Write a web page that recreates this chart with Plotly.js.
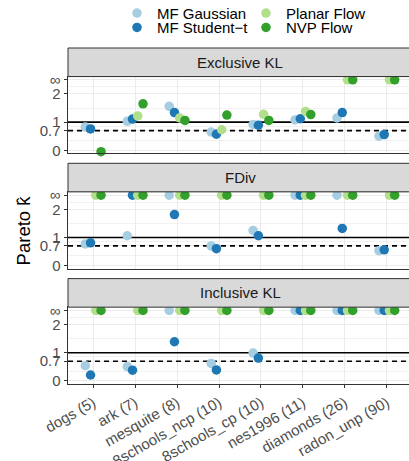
<!DOCTYPE html>
<html><head><meta charset="utf-8">
<script src="https://cdn.plot.ly/plotly-3.0.1.min.js"></script>
<style>html,body{margin:0;padding:0;overflow:hidden;background:#fff;} #chart{width:420px;height:461px;}</style>
</head><body><div id="chart"></div>
<script>
const INF = Infinity;
const categories = ['dogs (5)', 'ark (7)', 'mesquite (8)', '8schools_ncp (10)', '8schools_cp (10)', 'nes1996 (11)', 'diamonds (26)', 'radon_unp (90)'];
const seriesNames = ['MF Gaussian', 'MF Student\u2212t', 'Planar Flow', 'NVP Flow'];
const panelNames = ['Exclusive KL', 'FDiv', 'Inclusive KL'];
const yTickVals = [0, 0.7, 1, 2, 2.5];
const yTickText = ['0', '0.7', '1', '2', '\u221e'];
const INF_POS = 2.5;
const thresholdGood = 0.7;   // dashed
const thresholdBad = 1;      // solid

// Exclusive KL
const exclGauss   = [0.83, 1.03, 1.56, 0.65, 0.92, 1.08, 1.15, 0.50];
const exclStudent = [0.76, 1.11, 1.34, 0.57, 0.89, 1.12, 1.34, 0.56];
const exclPlanar  = [null, 1.22, 1.15, 0.73, 1.28, 1.38, INF, INF];
const exclNVP     = [-0.05, 1.65, 1.06, 1.25, 1.06, 1.27, INF, INF];
// FDiv
const fdivGauss   = [0.77, 1.06, INF, 0.70, 1.25, INF, INF, 0.53];
const fdivStudent = [0.81, INF, 1.81, 0.60, 1.06, INF, 1.32, 0.56];
const fdivPlanar  = [INF, INF, INF, INF, INF, INF, INF, INF];
const fdivNVP     = [INF, INF, INF, INF, INF, INF, INF, INF];
// Inclusive KL
const inclGauss   = [0.54, 0.51, INF, 0.62, 0.99, INF, INF, INF];
const inclStudent = [0.21, 0.38, 1.39, 0.39, 0.81, INF, INF, INF];
const inclPlanar  = [INF, INF, INF, INF, INF, INF, INF, INF];
const inclNVP     = [INF, INF, INF, INF, INF, INF, INF, INF];

const data = [
  [exclGauss, exclStudent, exclPlanar, exclNVP],
  [fdivGauss, fdivStudent, fdivPlanar, fdivNVP],
  [inclGauss, inclStudent, inclPlanar, inclNVP]
];

const colors = ['#a6cee3', '#1f78b4', '#b2df8a', '#33a02c'];
const dodge = [-0.1875, -0.0625, 0.0625, 0.1875];
const legendOf = ['legend', 'legend2', 'legend', 'legend2'];

// geometry (px)
const W = 420, H = 461, ML = 67.5, MR = 8.1, MT = 47.7, MB = 77;
const PH = H - MT - MB;
const STRIP = 28.6, PANEL = 76.8, GAP = 10;
const frac = py => (H - MB - py) / PH;
const xRange = [-0.6, categories.length - 0.4];

const traces = [];
const layout = {
  width: W, height: H,
  margin: {l: ML, r: MR, t: MT, b: MB, pad: 0},
  paper_bgcolor: '#ffffff', plot_bgcolor: '#ffffff',
  font: {family: 'Liberation Sans, Arial, sans-serif', size: 15, color: '#000'},
  showlegend: true,
  shapes: [], annotations: []
};

panelNames.forEach((pname, p) => {
  const sfx = p === 0 ? '' : String(p + 1);
  const stripTop = MT + p * (STRIP + PANEL + GAP);
  const panTop = stripTop + STRIP;
  const panBot = panTop + PANEL;
  layout['xaxis' + sfx] = {
    domain: [0, 1], anchor: 'y' + sfx,
    range: xRange,
    tickvals: categories.map((c, i) => i), ticktext: categories,
    showticklabels: p === 2, ticks: p === 2 ? 'outside' : '',
    ticklen: 3.5, tickwidth: 1, tickcolor: '#333333',
    tickangle: -30, tickfont: {size: 15, color: '#4d4d4d'},
    showgrid: true, gridcolor: '#ebebeb', gridwidth: 1,
    zeroline: false, showline: true, linecolor: '#333333', linewidth: 1, mirror: true,
    fixedrange: true, automargin: false
  };
  if (p > 0) layout['xaxis' + sfx].matches = 'x';
  layout['yaxis' + sfx] = {
    domain: [frac(panBot), frac(panTop)], anchor: 'x' + sfx,
    range: [-0.106, 2.617],
    tickvals: yTickVals, ticktext: yTickText,
    ticks: 'outside', ticklen: 3.5, tickwidth: 1, tickcolor: '#333333',
    tickfont: {size: 15, color: '#4d4d4d'},
    showgrid: true, gridcolor: '#ebebeb', gridwidth: 1,
    minor: {tickvals: [0.35, 0.85, 1.5, 2.25], showgrid: true, gridcolor: '#ebebeb', gridwidth: 0.7, ticks: ''},
    zeroline: false, showline: true, linecolor: '#333333', linewidth: 1, mirror: true,
    fixedrange: true, automargin: false
  };
  // strip
  layout.shapes.push({type: 'rect', xref: 'paper', yref: 'paper', x0: 0, x1: 1,
    y0: frac(panTop), y1: frac(stripTop), fillcolor: '#d9d9d9',
    line: {color: '#333333', width: 1}, layer: 'above'});
  layout.annotations.push({xref: 'paper', yref: 'paper', x: 0.5, y: frac(stripTop + STRIP / 2),
    text: pname, showarrow: false, xanchor: 'center', yanchor: 'middle',
    font: {size: 15, color: '#1a1a1a'}});
  // reference lines (as traces so they sit above gridlines, below points)
  traces.push({type: 'scatter', mode: 'lines', xaxis: 'x' + sfx, yaxis: 'y' + sfx,
    x: xRange, y: [thresholdBad, thresholdBad], showlegend: false, hoverinfo: 'skip',
    line: {color: '#000', width: 1.6}});
  traces.push({type: 'scatter', mode: 'lines', xaxis: 'x' + sfx, yaxis: 'y' + sfx,
    x: xRange, y: [thresholdGood, thresholdGood], showlegend: false, hoverinfo: 'skip',
    line: {color: '#000', width: 1.6, dash: '5px,4px'}});

  data[p].forEach((vals, s) => {
    traces.push({
      type: 'scatter', mode: 'markers',
      name: seriesNames[s], legend: legendOf[s], showlegend: p === 0,
      xaxis: 'x' + sfx, yaxis: 'y' + sfx,
      x: categories.map((c, i) => i + dodge[s]),
      y: vals.map(v => v === INF ? INF_POS : v),
      marker: {color: colors[s], size: 9.5, line: {width: 0}},
      hoverinfo: 'skip', cliponaxis: false
    });
  });
});

// legends (two rows)
const legendCommon = {
  orientation: 'h', xref: 'container', yref: 'container',
  xanchor: 'left', yanchor: 'middle', x: 117 / W,
  entrywidth: 84, entrywidthmode: 'pixels',
  bgcolor: 'rgba(0,0,0,0)', borderwidth: 0,
  font: {size: 15, color: '#000'}, itemclick: false, itemdoubleclick: false
};
layout.legend = Object.assign({}, legendCommon, {y: 1 - 13.3 / H});
layout.legend2 = Object.assign({}, legendCommon, {y: 1 - 27.7 / H});

// y-axis title
layout.annotations.push({xref: 'paper', yref: 'paper', x: (22.7 - ML) / (W - ML - MR), y: frac(230),
  text: 'Pareto k\u0302', textangle: -90, showarrow: false, xanchor: 'center', yanchor: 'middle',
  font: {size: 18.5, color: '#000'}});

Plotly.newPlot('chart', traces, layout, {displayModeBar: false, staticPlot: true});
</script>
</body></html>
